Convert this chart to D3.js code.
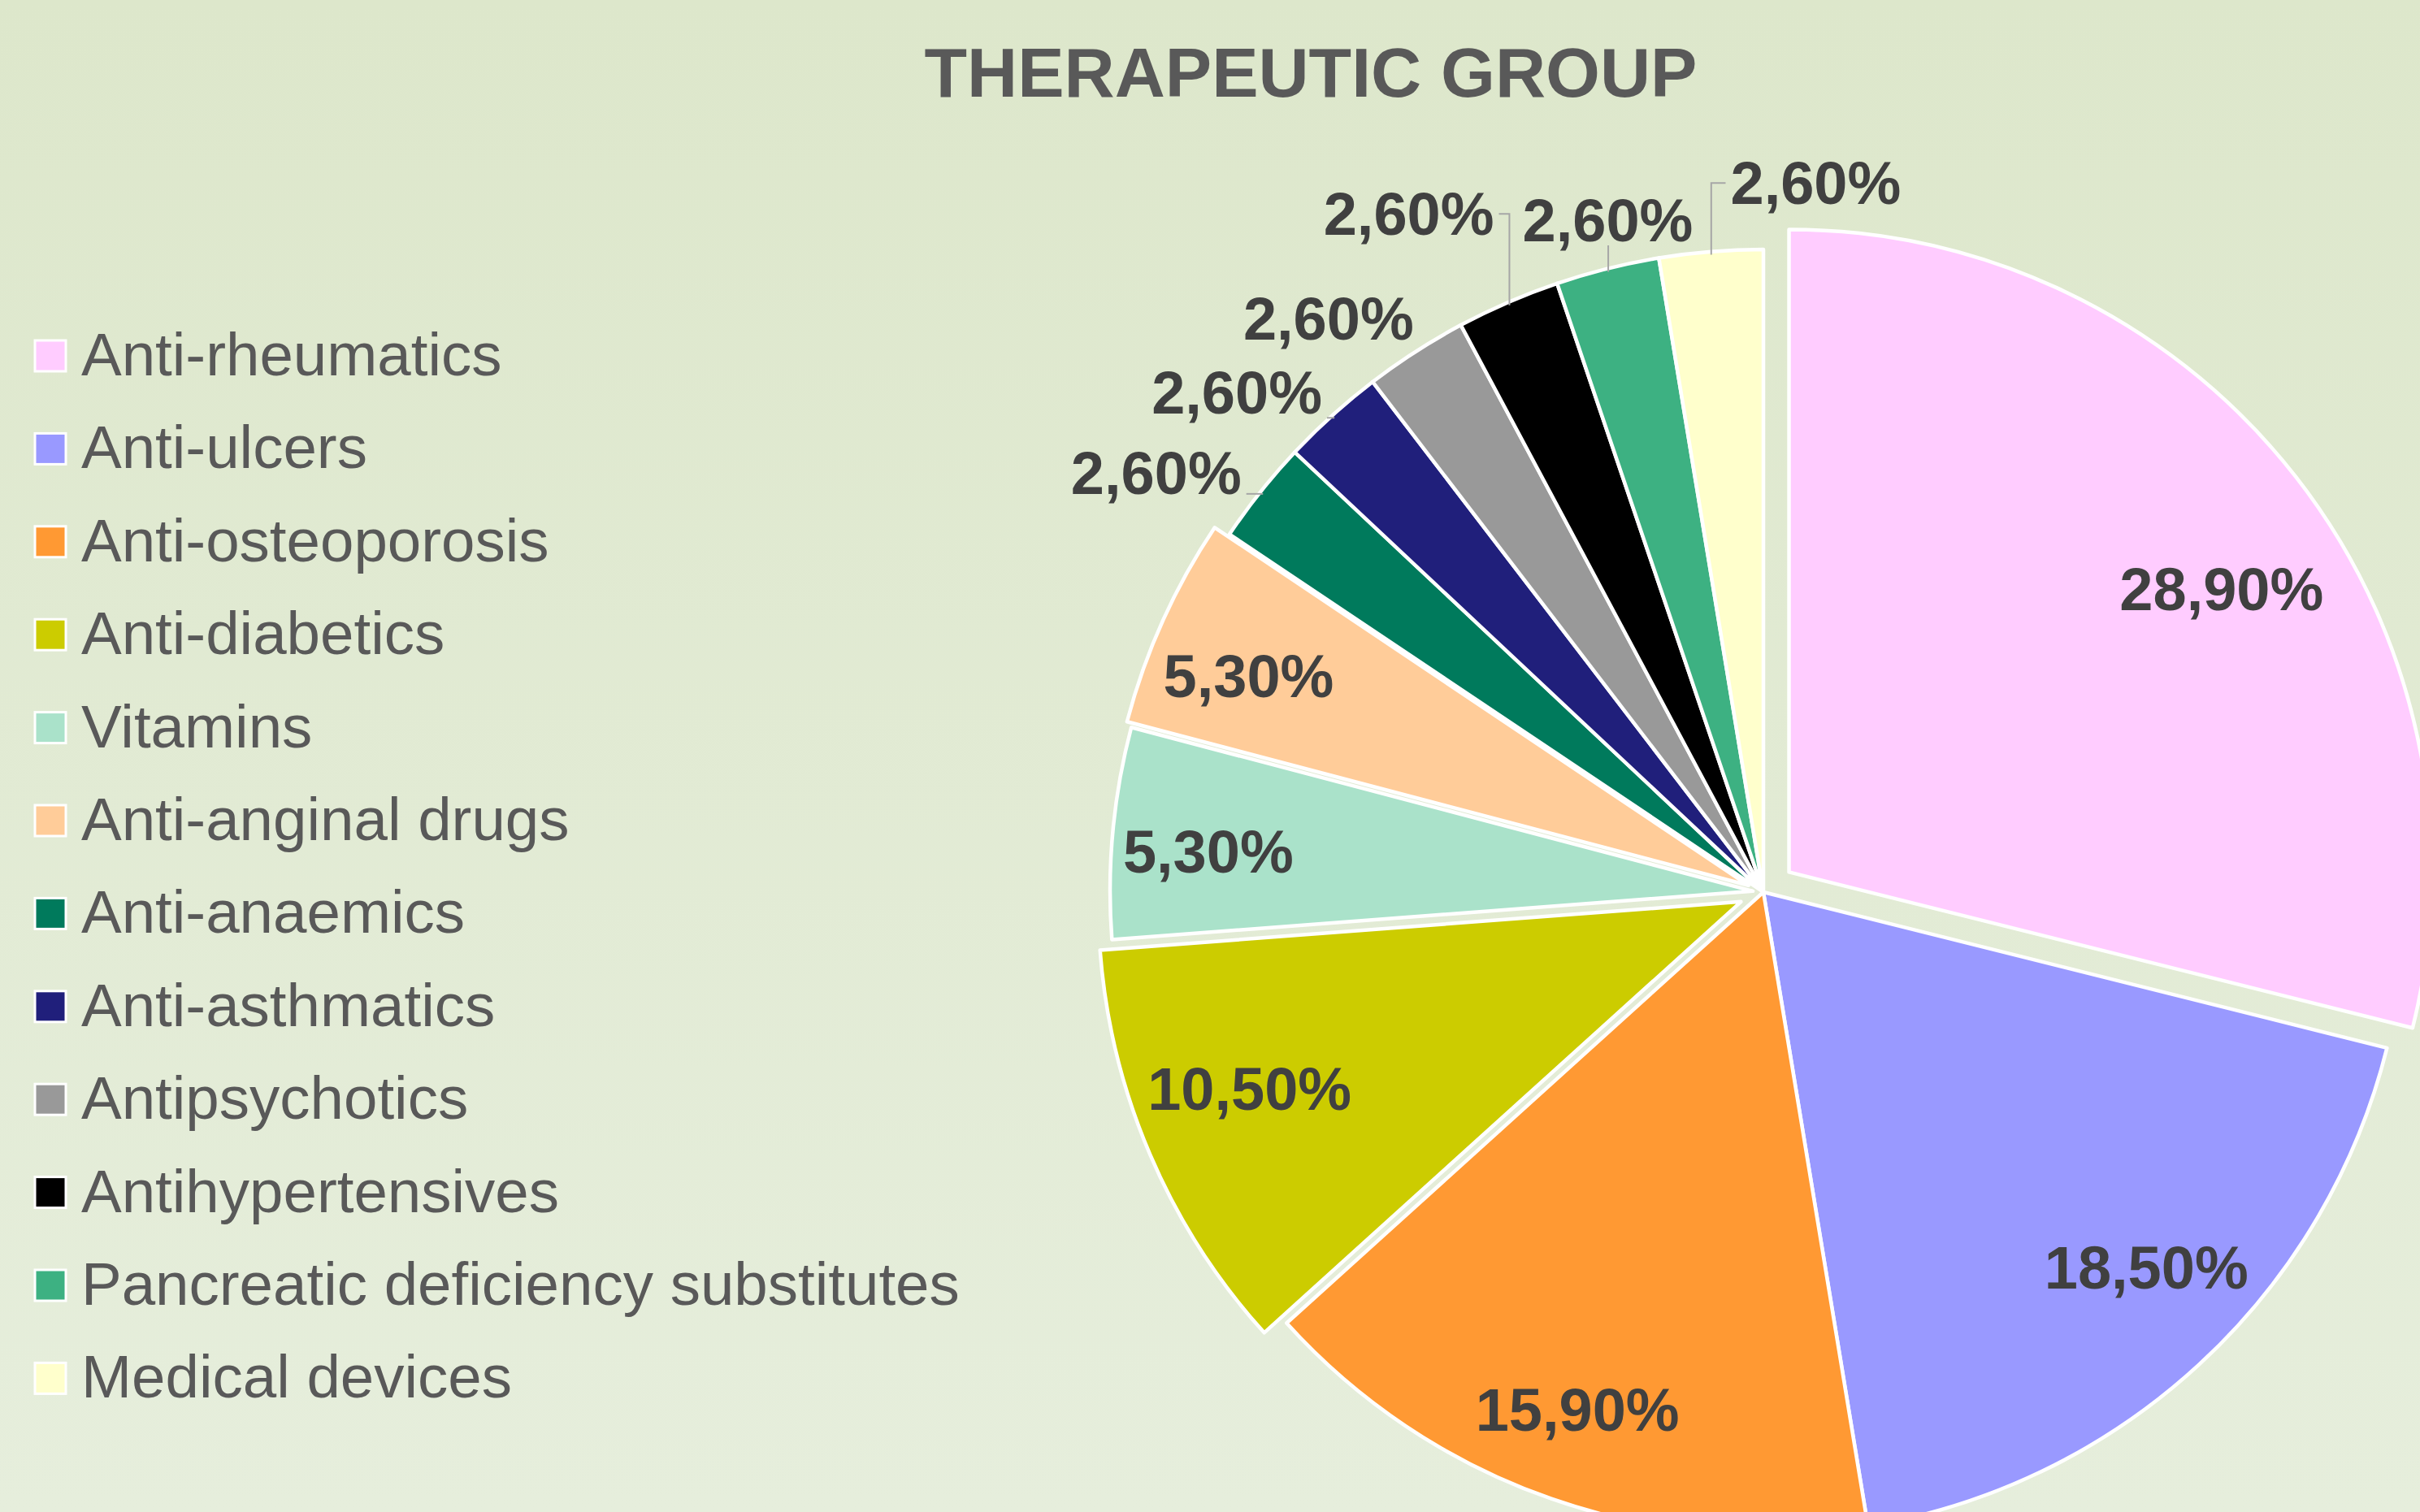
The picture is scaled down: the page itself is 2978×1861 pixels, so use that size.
<!DOCTYPE html>
<html>
<head>
<meta charset="utf-8">
<script src="https://cdn.jsdelivr.net/npm/d3@7"></script>
<style>
html,body{margin:0;padding:0;}
body{width:2978px;height:1861px;overflow:hidden;}
</style>
</head>
<body>
<svg id="chart" width="2978" height="1861"></svg>
<script>
// ---- data ----
const categories = [
  "Anti-rheumatics", "Anti-ulcers", "Anti-osteoporosis", "Anti-diabetics",
  "Vitamins", "Anti-anginal drugs", "Anti-anaemics", "Anti-asthmatics",
  "Antipsychotics", "Antihypertensives", "Pancreatic deficiency substitutes", "Medical devices"
];
const values = [28.9, 18.5, 15.9, 10.5, 5.3, 5.3, 2.6, 2.6, 2.6, 2.6, 2.6, 2.6];
const valueLabels = ["28,90%", "18,50%", "15,90%", "10,50%", "5,30%", "5,30%",
  "2,60%", "2,60%", "2,60%", "2,60%", "2,60%", "2,60%"];
const colors = ["#FFCCFF", "#9999FF", "#FF9933", "#CCCC00", "#AAE2CA", "#FFCC99",
  "#007A5C", "#201F7B", "#999999", "#000000", "#3DB182", "#FFFFCC"];
const title = "THERAPEUTIC GROUP";

// ---- layout ----
const W = 2978, H = 1861;
const cx = 2170, cy = 1098, R = 791;
const explode = [40, 0, 0, 30, 13, 20, 0, 0, 0, 0, 0, 0];
// label placement (angle shift in degrees, radius) relative to each slice
const labelLayout = [
  [4.8, 636], [-2.9, 660], [0.5, 677], [2.4, 647], [-1.1, 672], [-1.6, 667],
  [-3.9, 908], [-4.4, 893], [-4.4, 886], [-4.2, 942], [1.0, 849], [8.9, 875]
];
const FONT = "'Liberation Sans', Arial, Helvetica, sans-serif";

const svg = d3.select("#chart");
const defs = svg.append("defs");
const grad = defs.append("linearGradient").attr("id", "bg")
  .attr("x1", 0).attr("y1", 0).attr("x2", 0).attr("y2", 1);
grad.append("stop").attr("offset", "0%").attr("stop-color", "#DDE7CB");
grad.append("stop").attr("offset", "100%").attr("stop-color", "#E6EEDC");
svg.append("rect").attr("width", W).attr("height", H).attr("fill", "url(#bg)");

// title
svg.append("text").attr("x", 1613).attr("y", 119)
  .attr("text-anchor", "middle")
  .attr("font-family", FONT).attr("font-weight", "bold").attr("font-size", 86)
  .attr("fill", "#595959").text(title);

// pie
const pie = d3.pie().sort(null).value(d => d).startAngle(0).endAngle(2 * Math.PI);
const arcs = pie(values);
const arcGen = d3.arc().innerRadius(0).outerRadius(R);

const g = svg.append("g").attr("transform", `translate(${cx},${cy})`);
const offset = (a, i) => {
  const m = (a.startAngle + a.endAngle) / 2;
  return [explode[i] * Math.sin(m), -explode[i] * Math.cos(m)];
};

g.selectAll("path.slice").data(arcs).enter().append("path")
  .attr("class", "slice")
  .attr("d", arcGen)
  .attr("transform", (a, i) => { const o = offset(a, i); return `translate(${o[0]},${o[1]})`; })
  .attr("fill", (a, i) => colors[i])
  .attr("stroke", "#FFFFFF").attr("stroke-width", 4.5).attr("stroke-linejoin", "round");

// labels
const fontSize = 74;
const labelData = arcs.map((a, i) => {
  const m = (a.startAngle + a.endAngle) / 2;
  const o = offset(a, i);
  const ang = m + labelLayout[i][0] * Math.PI / 180;
  const r = labelLayout[i][1];
  return {
    i, m, o,
    x: o[0] + r * Math.sin(ang),
    y: o[1] - r * Math.cos(ang),
    outside: r > R,
    text: valueLabels[i]
  };
});

const lg = g.append("g");
const texts = lg.selectAll("text").data(labelData).enter().append("text")
  .attr("x", d => d.x).attr("y", d => d.y).attr("dy", "0.35em")
  .attr("text-anchor", "middle")
  .attr("font-family", FONT).attr("font-weight", "bold").attr("font-size", fontSize)
  .attr("fill", "#404040").text(d => d.text);

// leader lines for outside labels
const leaders = g.insert("g", () => lg.node());
texts.each(function (d) {
  if (!d.outside) return;
  const bb = this.getBBox();
  const ax = d.o[0] + (R - 4) * Math.sin(d.m);
  const ay = d.o[1] - (R - 4) * Math.cos(d.m);
  const pad = 6;
  const left = bb.x - pad, right = bb.x + bb.width + pad;
  const top = d.y - fontSize * 0.37, bottom = d.y + fontSize * 0.42;
  let pts = null;
  if (ax >= left && ax <= right) {
    if (ay - bottom > 18) pts = [[ax, ay], [ax, bottom]];
  } else {
    const ex = ax > right ? right : left;
    const dist = Math.hypot(ax - ex, ay - d.y);
    if (dist > 40 && Math.abs(ay - d.y) > 30) pts = [[ax, ay], [ax, d.y], [ex, d.y]];
    else if (dist > 20) pts = [[ax, ay], [ex, Math.min(Math.max(ay, top), bottom)]];
  }
  if (pts) {
    leaders.append("path")
      .attr("d", d3.line()(pts))
      .attr("fill", "none").attr("stroke", "#A6A6A6").attr("stroke-width", 2);
  }
});

// legend
const legend = svg.append("g");
const legY0 = 462, legStep = 114.4;
const items = legend.selectAll("g").data(categories).enter().append("g")
  .attr("transform", (d, i) => `translate(0,${legY0 + i * legStep})`);
items.append("rect").attr("x", 43).attr("y", -43).attr("width", 38).attr("height", 38)
  .attr("fill", (d, i) => colors[i]).attr("stroke", "#FFFFFF").attr("stroke-width", 3);
items.append("text").attr("x", 100).attr("y", 0)
  .attr("font-family", FONT).attr("font-size", 74.5).attr("fill", "#595959")
  .text(d => d);
</script>
</body>
</html>
